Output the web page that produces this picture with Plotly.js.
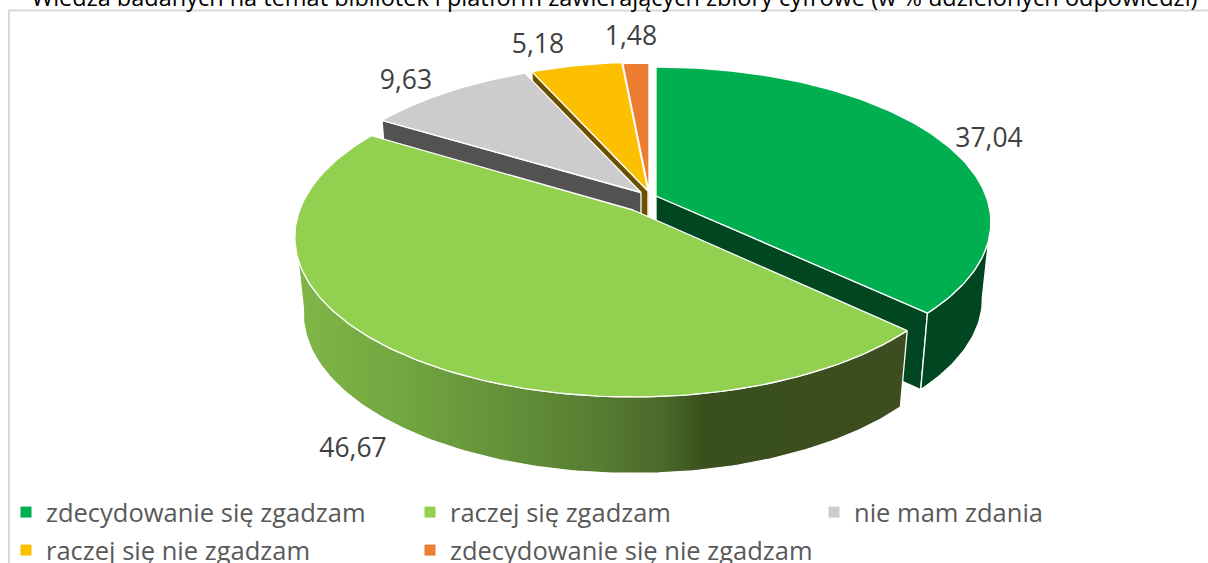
<!DOCTYPE html>
<html><head><meta charset="utf-8">
<script src="https://cdn.plot.ly/plotly-3.0.1.min.js"></script>
<style>html,body{margin:0;padding:0;background:#fff;overflow:hidden;width:1208px;height:563px}
#chart{position:absolute;left:0;top:-20px;width:1300px;height:640px}</style></head>
<body><div id="chart"></div>
<script>
const chartTitle = "Wiedza badanych na temat bibliotek i platform zawierających zbiory cyfrowe (w % udzielonych odpowiedzi)";
const categories = ["zdecydowanie się zgadzam","raczej się zgadzam","nie mam zdania","raczej się nie zgadzam","zdecydowanie się nie zgadzam"];
const values = [37.04,46.67,9.63,5.18,1.48];
const labelTexts = ["37,04","46,67","9,63","5,18","1,48"];
const topColors = ["#00b050","#92d050","#cdcbcb","#fcc000","#ed7d31"];
const wallColors = ["#004621","#3d4d20","#525252","#6b5000","#7a4018"];

// view geometry (pixel-scale axes)
const W=1300,H=640;
const A=330,B=150.8,K=0.169,SCX=0.975,DZ=76.5;
const apex=[[656,196],[633,210],[641,192.5],[648,191],[649,192]];
const sliceScale=[[1,1],[1.01,1.03],[1,1],[1,1],[1,1]];
const labelXY=[[989,140],[353,450],[406,82],[538,46],[631,38]];

const cum=[];let acc=0;values.forEach(v=>{cum.push([acc*3.6,(acc+v)*3.6]);acc+=v;});
function P(i,deg,lower){
  const t=deg*Math.PI/180,u=Math.sin(t),v=-Math.cos(t),w=1-K*v,s=lower?SCX:1;
  return [apex[i][0]+s*sliceScale[i][0]*A*u/w, apex[i][1]+sliceScale[i][1]*B*v/w+(lower?DZ:0)];
}
function O(i,lower){return [apex[i][0],apex[i][1]+(lower?DZ:0)];}
function steps(a,b){const r=[],n=Math.max(2,Math.ceil(Math.abs(b-a)));for(let j=0;j<=n;j++)r.push(a+(b-a)*j/n);return r;}
const edge={color:"#ffffff",width:1.3};
const traces=[];
function poly(pts,fill,extra){
  traces.push(Object.assign({type:"scatter",mode:"lines",x:pts.map(p=>p[0]),y:pts.map(p=>p[1]),fill:"toself",fillcolor:fill,line:edge,hoverinfo:"skip",showlegend:false},extra||{}));
}
function cutWall(i,deg){poly([O(i,false),P(i,deg,false),P(i,deg,true),O(i,true),O(i,false)],wallColors[i]);}
function outerWall(i,a,b,extra){
  const up=steps(a,b).map(d=>P(i,d,false)),lo=steps(b,a).map(d=>P(i,d,true));
  poly(up.concat(lo,[up[0]]),wallColors[i],extra);
}
function topFace(i){
  const arc=steps(cum[i][0],cum[i][1]).map(d=>P(i,d,false));
  poly([O(i,false)].concat(arc,[O(i,false)]),topColors[i],{name:categories[i],hoverinfo:"name"});
}
[4,3,2].forEach(i=>{cutWall(i,cum[i][0]);topFace(i);});
cutWall(0,cum[0][1]);outerWall(0,99,cum[0][1]);topFace(0);
outerWall(1,cum[1][0],262,{fillgradient:{type:"horizontal",start:298,stop:905,colorscale:[[0,"#80b547"],[0.15,"#74a942"],[0.33,"#65923a"],[0.5,"#567c31"],[0.6,"#4a6a2a"],[0.67,"#39501d"],[1,"#3d4d20"]]}});
topFace(1);
// data labels
traces.push({type:"scatter",mode:"text",x:labelXY.map(p=>p[0]),y:labelXY.map(p=>p[1]),text:labelTexts,textposition:"middle center",textfont:{family:"Open Sans",size:26.5,color:"#404040"},hoverinfo:"skip",showlegend:false});
// legend entries: two rows
categories.forEach((c,i)=>traces.push({type:"scatter",mode:"markers",x:[null],y:[null],name:c,legend:i<3?"legend":"legend2",marker:{symbol:"square",size:11,color:topColors[i]},showlegend:true}));
const legendBase={orientation:"h",x:6/W,xanchor:"left",yanchor:"top",entrywidth:359,entrywidthmode:"pixels",font:{family:"Open Sans",size:25.5,color:"#595959"},bgcolor:"rgba(0,0,0,0)",traceorder:"normal"};

Plotly.newPlot("chart",traces,{
  width:W,height:H,margin:{l:0,r:0,t:0,b:0},paper_bgcolor:"#fff",plot_bgcolor:"#fff",
  title:{text:chartTitle,x:614.5/W,xanchor:"center",y:1-18/H,yanchor:"middle",font:{family:"Open Sans",size:23.5,color:"#000"}},
  xaxis:{range:[0,W],visible:false,fixedrange:true},
  yaxis:{range:[H-20,-20],visible:false,fixedrange:true},
  showlegend:true,
  legend:Object.assign({},legendBase,{y:0.2047}),
  legend2:Object.assign({},legendBase,{y:0.1453}),
  shapes:[{type:"rect",xref:"x",yref:"y",x0:9,x1:1340,y0:10.5,y1:700,line:{color:"#d9d9d9",width:2},fillcolor:"rgba(0,0,0,0)",layer:"below"}]
},{displayModeBar:false,responsive:false});
</script></body></html>
